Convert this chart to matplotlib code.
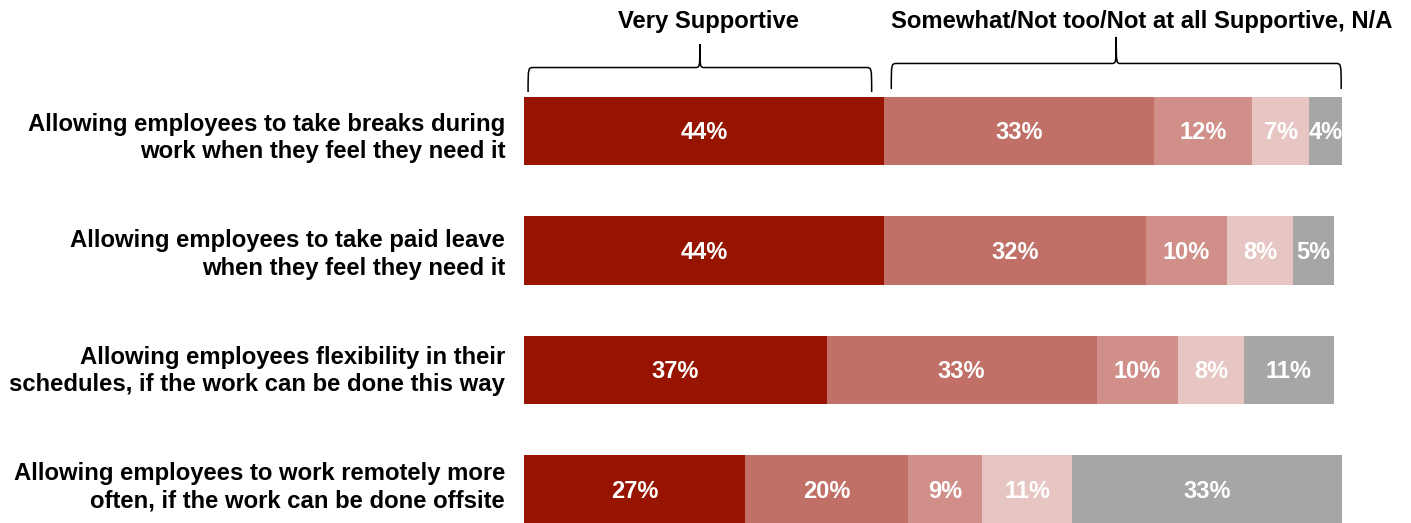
import numpy as np
import matplotlib.pyplot as plt
from matplotlib.path import Path
from matplotlib.patches import PathPatch

plt.rcParams['font.family'] = ['Liberation Sans', 'DejaVu Sans']

categories = [
    "Allowing employees to take breaks during\nwork when they feel they need it",
    "Allowing employees to take paid leave\nwhen they feel they need it",
    "Allowing employees flexibility in their\nschedules, if the work can be done this way",
    "Allowing employees to work remotely more\noften, if the work can be done offsite",
]
very = [44, 44, 37, 27]
somewhat = [33, 32, 33, 20]
not_too = [12, 10, 10, 9]
not_at_all = [7, 8, 8, 11]
na = [4, 5, 11, 33]

series = [very, somewhat, not_too, not_at_all, na]
colors = ["#961400", "#C07067", "#D08F89", "#E6C5C2", "#A6A6A6"]

group_labels = ["Very Supportive", "Somewhat/Not too/Not at all Supportive, N/A"]


def brace(ax, x0, x1, yb, ym, yt, r=0.7, r2=0.6):
    xc = (x0 + x1) / 2
    verts = [
        (x0, yb), (x0, ym), (x0, ym), (x0 + r, ym),
        (xc - r2, ym),
        (xc, ym), (xc, ym), (xc, yt),
        (xc, ym), (xc, ym), (xc + r2, ym),
        (x1 - r, ym),
        (x1, ym), (x1, ym), (x1, yb),
    ]
    codes = [Path.MOVETO, Path.CURVE4, Path.CURVE4, Path.CURVE4,
             Path.LINETO,
             Path.CURVE4, Path.CURVE4, Path.CURVE4,
             Path.CURVE4, Path.CURVE4, Path.CURVE4,
             Path.LINETO,
             Path.CURVE4, Path.CURVE4, Path.CURVE4]
    ax.add_patch(PathPatch(Path(verts, codes), facecolor="none",
                           edgecolor="black", lw=1.1, clip_on=False))


fig = plt.figure(figsize=(14.11, 5.23), dpi=100)
ax = fig.add_axes([524 / 1411, 0, 818 / 1411, 1])

y = np.arange(len(categories))
left = np.zeros(len(categories))
for vals, c in zip(series, colors):
    vals = np.array(vals)
    ax.barh(y, vals, left=left, height=0.57, color=c, edgecolor="none")
    for yi, v, l in zip(y, vals, left):
        ax.text(l + v / 2, yi + 0.015, f"{v}%", ha="center", va="center",
                color="white", fontsize=17, fontweight="bold")
    left = left + vals

# category labels are spaced a bit tighter than the bars
for yi, cat in zip(y, categories):
    ax.text(-2.3, yi + 0.058 - 0.025 * yi, cat, ha="right", va="center",
            fontsize=17.2, fontweight="bold", linespacing=1.25, clip_on=False)

ax.set_xlim(0, 100)
ax.set_ylim(3.28, -1.096)
ax.axis("off")

# braces over the first row
brace(ax, 0.5, very[0] - 1.5, -0.326, -0.531, -0.728)
brace(ax, very[0] + 0.9, 99.9, -0.351, -0.565, -0.787)
ax.text(22.6, -0.92, group_labels[0], ha="center",
        va="center", fontsize=17.2, fontweight="bold", clip_on=False)
ax.text(75.5, -0.92, group_labels[1], ha="center",
        va="center", fontsize=17.2, fontweight="bold", clip_on=False)

fig.savefig("out.png", dpi=100)
